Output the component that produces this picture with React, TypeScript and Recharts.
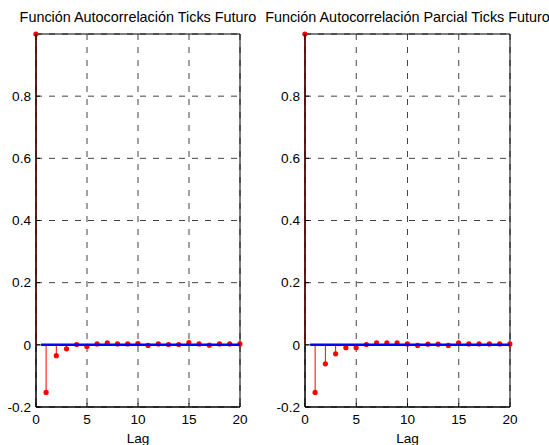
import {
  BarChart,
  Bar,
  XAxis,
  YAxis,
  CartesianGrid,
  ReferenceLine,
  ReferenceArea,
} from "recharts";

const lags = [0, 1, 2, 3, 4, 5, 6, 7, 8, 9, 10, 11, 12, 13, 14, 15, 16, 17, 18, 19, 20];
const acfValues = [1, -0.153, -0.035, -0.013, 0.001, -0.005, 0.003, 0.006, 0.003, 0.003, 0.004, -0.002, 0.003, 0.001, 0.001, 0.007, 0.003, -0.001, 0.003, 0.003, 0.003];
const pacfValues = [1, -0.153, -0.061, -0.029, -0.009, -0.009, 0.001, 0.006, 0.006, 0.006, 0.003, -0.002, 0.002, 0.002, -0.002, 0.006, 0.003, 0.003, 0.003, 0.003, 0.003];
const xTicks = [0, 5, 10, 15, 20];
const yTicks = [-0.2, 0, 0.2, 0.4, 0.6, 0.8];
const yDomain = [-0.2, 1];
const boundLags = [0.5, 20];
const bounds = [0.002, -0.001];
const titles = [
  "Función Autocorrelación Ticks Futuro",
  "Función Autocorrelación Parcial Ticks Futuro",
];

const FONT = "Arial, 'Liberation Sans', sans-serif";
const tickStyle = { fontSize: 13.6, fill: "#000", fontFamily: FONT };

const Stem = (props: any) => {
  const { x, y, width, height, payload } = props;
  const cx = x + width / 2;
  const top = Math.min(y, y + height);
  const bottom = Math.max(y, y + height);
  const cy = payload.value >= 0 ? top : bottom;
  return (
    <g>
      <line x1={cx} x2={cx} y1={top} y2={bottom} stroke="#ff0000" strokeWidth={1} />
      <circle cx={cx} cy={cy} r={2.6} fill="#ff0000" />
    </g>
  );
};

function StemPlot({ values, marginLeft, marginRight }: { values: number[]; marginLeft: number; marginRight: number }) {
  const data = lags.map((lag, i) => ({
    lag,
    value: values[i],
    range: [Math.min(0, values[i]), Math.max(0, values[i])],
  }));
  return (
    <BarChart
      width={275}
      height={445}
      data={data}
      margin={{ top: 34, right: marginRight, left: marginLeft, bottom: 1 }}
    >
      <CartesianGrid stroke="#444" strokeDasharray="6 7" />
      <XAxis
        dataKey="lag"
        type="number"
        domain={[0, 20]}
        ticks={xTicks}
        height={37}
        tickSize={-4}
        tickMargin={11}
        tick={tickStyle}
        stroke="#000"
        label={{ value: "Lag", position: "insideBottom", offset: 1, fontSize: 13.6, fill: "#000", fontFamily: FONT }}
      />
      <XAxis
        xAxisId="top"
        orientation="top"
        dataKey="lag"
        type="number"
        domain={[0, 20]}
        ticks={xTicks}
        height={0}
        tickSize={-4}
        tickFormatter={() => ""}
        stroke="#000"
      />
      <YAxis
        type="number"
        domain={yDomain}
        ticks={yTicks}
        width={30}
        tickSize={-4}
        tickMargin={9}
        tick={tickStyle}
        stroke="#000"
        tickFormatter={(v: number) => (v === 0 ? "0" : String(v))}
      />
      <YAxis
        yAxisId="right"
        orientation="right"
        type="number"
        domain={yDomain}
        ticks={yTicks}
        width={0}
        tickSize={-4}
        tickFormatter={() => ""}
        stroke="#000"
      />
      <ReferenceArea x1={0} x2={20} y1={-0.2} y2={1} fill="none" stroke="#000" strokeWidth={1} />
      {bounds.map((b) => (
        <ReferenceLine
          key={b}
          segment={[
            { x: boundLags[0], y: b },
            { x: boundLags[1], y: b },
          ]}
          stroke="#0000ff"
          strokeWidth={1.5}
        />
      ))}
      <Bar dataKey="range" barSize={6} shape={Stem} isAnimationActive={false} />
    </BarChart>
  );
}

const titleStyle = {
  position: "absolute" as const,
  top: 9,
  width: 320,
  textAlign: "center" as const,
  fontFamily: FONT,
  fontSize: 14.4,
  lineHeight: "16px",
  whiteSpace: "nowrap" as const,
};

export default function App() {
  return (
    <div style={{ position: "absolute", left: 0, top: 0, width: 549, height: 445, background: "#fff" }}>
      <div style={{ position: "absolute", left: 0, top: 0 }}>
        <StemPlot values={acfValues} marginLeft={6} marginRight={35} />
      </div>
      <div style={{ position: "absolute", left: 274, top: 0 }}>
        <StemPlot values={pacfValues} marginLeft={1} marginRight={39} />
      </div>
      <div style={{ ...titleStyle, left: 138 - 160 }}>{titles[0]}</div>
      <div style={{ ...titleStyle, left: 407.5 - 160 }}>{titles[1]}</div>
    </div>
  );
}
